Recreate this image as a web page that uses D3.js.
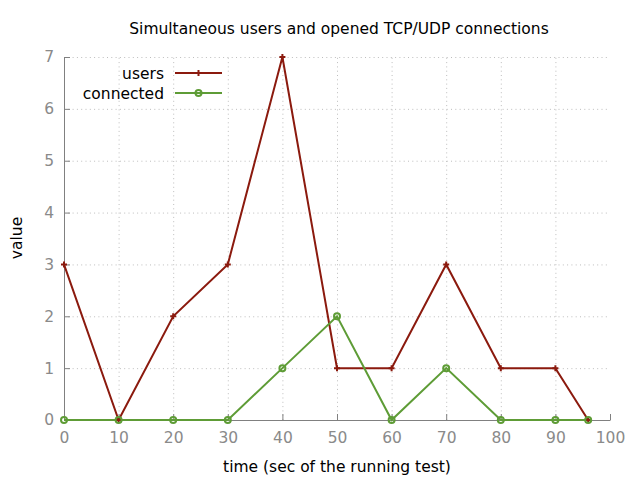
<!DOCTYPE html>
<html><head><meta charset="utf-8">
<script src="https://cdn.jsdelivr.net/npm/d3@7"></script>
<style>body{margin:0;background:#fff}svg{display:block}text{font-family:"DejaVu Sans",sans-serif}</style>
</head><body>
<script>
const times = [0,10,20,30,40,50,60,70,80,90,96];
const users = [3,0,2,3,7,1,1,3,1,1,0];
const connected = [0,0,0,0,1,2,0,1,0,0,0];
const xTicks = [0,10,20,30,40,50,60,70,80,90,100];
const yTicks = [0,1,2,3,4,5,6,7];
const seriesNames = ["users","connected"];
const seriesColors = ["#8b1a0e","#5e9c36"];

const W=640,H=480;
const svg=d3.select("body").append("svg").attr("width",W).attr("height",H);
const x=d3.scaleLinear().domain([0,100]).range([64,610]);
const y=d3.scaleLinear().domain([0,7]).range([420,57]);

// grid
const g=svg.append("g");
g.selectAll(".gx").data(xTicks.slice(1,-1)).enter().append("line")
 .attr("x1",d=>x(d)+0.5).attr("x2",d=>x(d)+0.5).attr("y1",y(0)).attr("y2",y(7))
 .attr("stroke","#bdbdbd").attr("stroke-width",1).attr("stroke-dasharray","1,3.3");
g.selectAll(".gy").data(yTicks.slice(1)).enter().append("line")
 .attr("x1",x(0)).attr("x2",x(100)).attr("y1",d=>y(d)+0.5).attr("y2",d=>y(d)+0.5)
 .attr("stroke","#bdbdbd").attr("stroke-width",1).attr("stroke-dasharray","1,3.3");

// axes
const xa=svg.append("g").attr("transform",`translate(0,${y(0)})`)
 .call(d3.axisBottom(x).tickValues(xTicks).tickFormat(d3.format("d")).tickSize(-6).tickPadding(12).tickSizeOuter(0));
const ya=svg.append("g").attr("transform",`translate(${x(0)},0)`)
 .call(d3.axisLeft(y).tickValues(yTicks).tickFormat(d3.format("d")).tickSize(-6).tickPadding(10).tickSizeOuter(0));
[xa,ya].forEach(a=>{
 a.select(".domain").attr("stroke","#808080");
 a.selectAll(".tick line").attr("stroke","#808080");
 a.selectAll(".tick text").attr("fill","#8a8a8a").attr("font-size",15.5).attr("font-family","DejaVu Sans");
});
xa.selectAll(".tick text").attr("dy","0.71em");

const data=[users,connected];
const line=d3.line().x((d,i)=>x(times[i])).y(d=>y(d));
data.forEach((s,k)=>{
 svg.append("path").datum(s).attr("d",line).attr("fill","none")
  .attr("stroke",seriesColors[k]).attr("stroke-width",2);
});
// markers
function plus(sel,c){sel.append("path").attr("d","M-3,0H3M0,-3V3").attr("stroke",c).attr("stroke-width",2);}
function circ(sel,c){sel.append("circle").attr("r",3).attr("fill","none").attr("stroke",c).attr("stroke-width",2);}
svg.selectAll(".mu").data(users).enter().append("g")
 .attr("transform",(d,i)=>`translate(${x(times[i])},${y(d)})`).each(function(){plus(d3.select(this),seriesColors[0]);});
svg.selectAll(".mc").data(connected).enter().append("g")
 .attr("transform",(d,i)=>`translate(${x(times[i])},${y(d)})`).each(function(){circ(d3.select(this),seriesColors[1]);});

// legend
seriesNames.forEach((n,k)=>{
 const ly=73+k*20;
 svg.append("text").attr("x",164).attr("y",ly+1).attr("dy","0.35em").attr("text-anchor","end")
  .attr("font-size",15.5).attr("fill","#000").text(n);
 svg.append("line").attr("x1",175).attr("x2",222).attr("y1",ly).attr("y2",ly)
  .attr("stroke",seriesColors[k]).attr("stroke-width",2);
 const m=svg.append("g").attr("transform",`translate(198.5,${ly})`);
 k===0?plus(m,seriesColors[0]):circ(m,seriesColors[1]);
});

// titles
svg.append("text").attr("x",339).attr("y",29).attr("dy","0.35em").attr("text-anchor","middle")
 .attr("font-size",15.5).text("Simultaneous users and opened TCP/UDP connections");
svg.append("text").attr("x",337).attr("y",467).attr("dy","0.35em").attr("text-anchor","middle")
 .attr("font-size",15.5).text("time (sec of the running test)");
svg.append("text").attr("transform","translate(17,238) rotate(-90)").attr("dy","0.35em").attr("text-anchor","middle")
 .attr("font-size",15.5).text("value");
</script>
</body></html>
